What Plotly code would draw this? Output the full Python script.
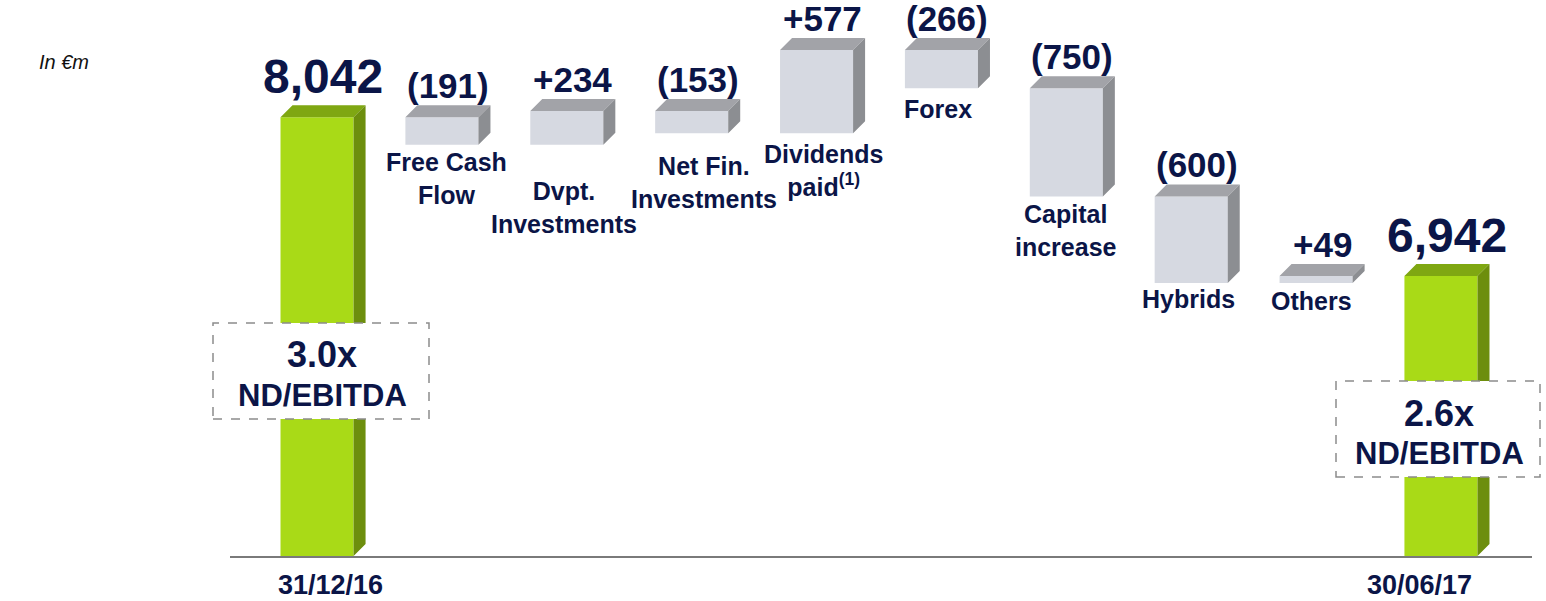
import plotly.graph_objects as go

# ---------------- data ----------------
categories = ["31/12/16", "Free Cash<br>Flow", "Dvpt.<br>Investments", "Net Fin.<br>Investments",
              "Dividends<br>paid<sup>(1)</sup>", "Forex", "Capital<br>increase", "Hybrids",
              "Others", "30/06/17"]
measures = ["absolute", "relative", "relative", "relative", "relative", "relative",
            "relative", "relative", "relative", "total"]
values = [8042, -191, 234, -153, 577, -266, -750, -600, 49, 6942]
multiples = ["3.0x", "2.6x"]
multiple_label = "ND/EBITDA"
unit_label = "In €m"

# ---------------- style / layout ----------------
W, H = 1546, 601
ML, MR, MT, MB = 230, 14, 8, 45
PLOT_W = W - ML - MR
PLOT_H = H - MT - MB
X_RANGE = [-0.697, 9.729]
Y_RANGE = [5000, 8800]
PX_PER_X = PLOT_W / (X_RANGE[1] - X_RANGE[0])
PX_PER_Y = PLOT_H / (Y_RANGE[1] - Y_RANGE[0])
BAR_W = 0.585
DX = 12 / PX_PER_X
DY = 12 / PX_PER_Y

NAVY = "#0B1547"
GREEN = "#A9DA17"
GREEN_TOP = "#7FA712"
GREEN_SIDE = "#6D8E0D"
GRAY = "#D6D9E1"
GRAY_TOP = "#A2A3A8"
GRAY_SIDE = "#8C8E92"
FONT = "Arial, Liberation Sans, sans-serif"

# per-label placement of the category captions (pixel gap below bar, x shift)
CAP_GAP = [0, 1, 30, 17, 5, 5, 2, 0, 2, 0]
CAP_XSHIFT = [0, 5, -3, 12, 7, -3, 0, -3, -5, 0]


def px_x(px):
    return (px - ML) / PLOT_W


def px_y(py):
    return (H - MB - py) / PLOT_H


# ---------------- running totals ----------------
starts, ends = [], []
run = 0
for m, v in zip(measures, values):
    if m == "absolute":
        s, e = 0, v
        run = v
    elif m == "relative":
        s, e = run, run + v
        run += v
    else:
        s, e = 0, run
    starts.append(s)
    ends.append(e)

xs = list(range(len(values)))
is_total = [m != "relative" for m in measures]

fig = go.Figure()
fig.add_trace(go.Waterfall(
    x=xs, y=values, measure=measures, width=[BAR_W] * len(xs),
    increasing=dict(marker=dict(color=GRAY, line=dict(width=0))),
    decreasing=dict(marker=dict(color=GRAY, line=dict(width=0))),
    totals=dict(marker=dict(color=GREEN, line=dict(width=0))),
    connector=dict(visible=False), hoverinfo="skip", showlegend=False,
))

# 3D faces computed from the running totals
faces = {(True, "top"): ([], []), (True, "side"): ([], []),
         (False, "top"): ([], []), (False, "side"): ([], [])}
for i, (s, e, tot) in enumerate(zip(starts, ends, is_total)):
    top = max(s, e)
    bot = max(min(s, e), Y_RANGE[0])
    xl, xr = i - BAR_W / 2, i + BAR_W / 2
    fx, fy = faces[(tot, "top")]
    fx += [xl, xl + DX, xr + DX, xr, xl, None]
    fy += [top, top + DY, top + DY, top, top, None]
    fx, fy = faces[(tot, "side")]
    fx += [xr, xr, xr + DX, xr + DX, xr, None]
    fy += [bot, top, top + DY, bot + DY, bot, None]

face_colors = {(True, "top"): GREEN_TOP, (True, "side"): GREEN_SIDE,
               (False, "top"): GRAY_TOP, (False, "side"): GRAY_SIDE}
for key, (fx, fy) in faces.items():
    fig.add_trace(go.Scatter(x=fx, y=fy, mode="lines", fill="toself",
                             fillcolor=face_colors[key], line=dict(width=0, color=face_colors[key]),
                             hoverinfo="skip", showlegend=False))

annotations = []
# value labels
for i, (s, e, v, tot) in enumerate(zip(starts, ends, values, is_total)):
    top = max(s, e)
    if tot:
        txt = f"{e:,}"
        size = 48
        ysh = 0
    else:
        txt = f"({abs(v):,})" if v < 0 else f"+{v:,}"
        size = 35
        ysh = -2
    annotations.append(dict(x=i + DX / 2, y=top + DY, xref="x", yref="y", text=f"<b>{txt}</b>",
                            showarrow=False, xanchor="center", yanchor="bottom", yshift=ysh,
                            font=dict(family=FONT, size=size, color=NAVY)))
# category captions for intermediate bars
for i, (s, e, tot) in enumerate(zip(starts, ends, is_total)):
    if tot:
        continue
    bot = min(s, e)
    annotations.append(dict(x=i, y=bot, xref="x", yref="y", text=f"<b>{categories[i]}</b>",
                            showarrow=False, xanchor="center", yanchor="top",
                            yshift=-CAP_GAP[i], xshift=CAP_XSHIFT[i],
                            font=dict(family=FONT, size=25, color=NAVY)))
# date labels under the total bars
for i, xsh in zip([0, len(values) - 1], [13, -21]):
    annotations.append(dict(x=i, y=px_y(585), xref="x", yref="paper", text=f"<b>{categories[i]}</b>",
                            showarrow=False, xanchor="center", yanchor="middle", xshift=xsh,
                            font=dict(family=FONT, size=27, color=NAVY)))
# unit label
annotations.append(dict(x=px_x(37), y=px_y(62), xref="paper", yref="paper", text=f"<i>{unit_label}</i>",
                        showarrow=False, xanchor="left", yanchor="middle",
                        font=dict(family="Liberation Sans, Arial", size=20, color="#111111")))

# ND/EBITDA boxes
shapes = []
boxes = [(213, 323, 429, 419), (1336, 381, 1540, 477)]
for (x0, y0, x1, y1), mult in zip(boxes, multiples):
    shapes.append(dict(type="rect", xref="paper", yref="paper",
                       x0=px_x(x0), x1=px_x(x1), y0=px_y(y1), y1=px_y(y0),
                       fillcolor="white", line=dict(color="#8C8C8C", width=1.5, dash="dash"),
                       layer="above"))
    cx = (x0 + x1) / 2 + 1
    annotations.append(dict(x=px_x(cx), y=px_y(y0 + 32), xref="paper", yref="paper",
                            text=f"<b>{mult}</b>", showarrow=False, xanchor="center", yanchor="middle",
                            font=dict(family=FONT, size=36, color=NAVY)))
    annotations.append(dict(x=px_x(cx), y=px_y(y0 + 72), xref="paper", yref="paper",
                            text=f"<b>{multiple_label}</b>", showarrow=False, xanchor="center",
                            yanchor="middle", font=dict(family=FONT, size=31, color=NAVY)))

fig.update_layout(
    width=W, height=H, margin=dict(l=ML, r=MR, t=MT, b=MB),
    paper_bgcolor="white", plot_bgcolor="white",
    xaxis=dict(range=X_RANGE, showgrid=False, zeroline=False, showticklabels=False, ticks="",
               showline=True, linecolor="#7A7A7A", linewidth=2, fixedrange=True),
    yaxis=dict(range=Y_RANGE, visible=False, fixedrange=True),
    annotations=annotations, shapes=shapes, showlegend=False,
)

fig.write_html("out.html", config={"displayModeBar": False},
               post_script="document.body.style.margin='0';document.body.style.overflow='hidden';")
